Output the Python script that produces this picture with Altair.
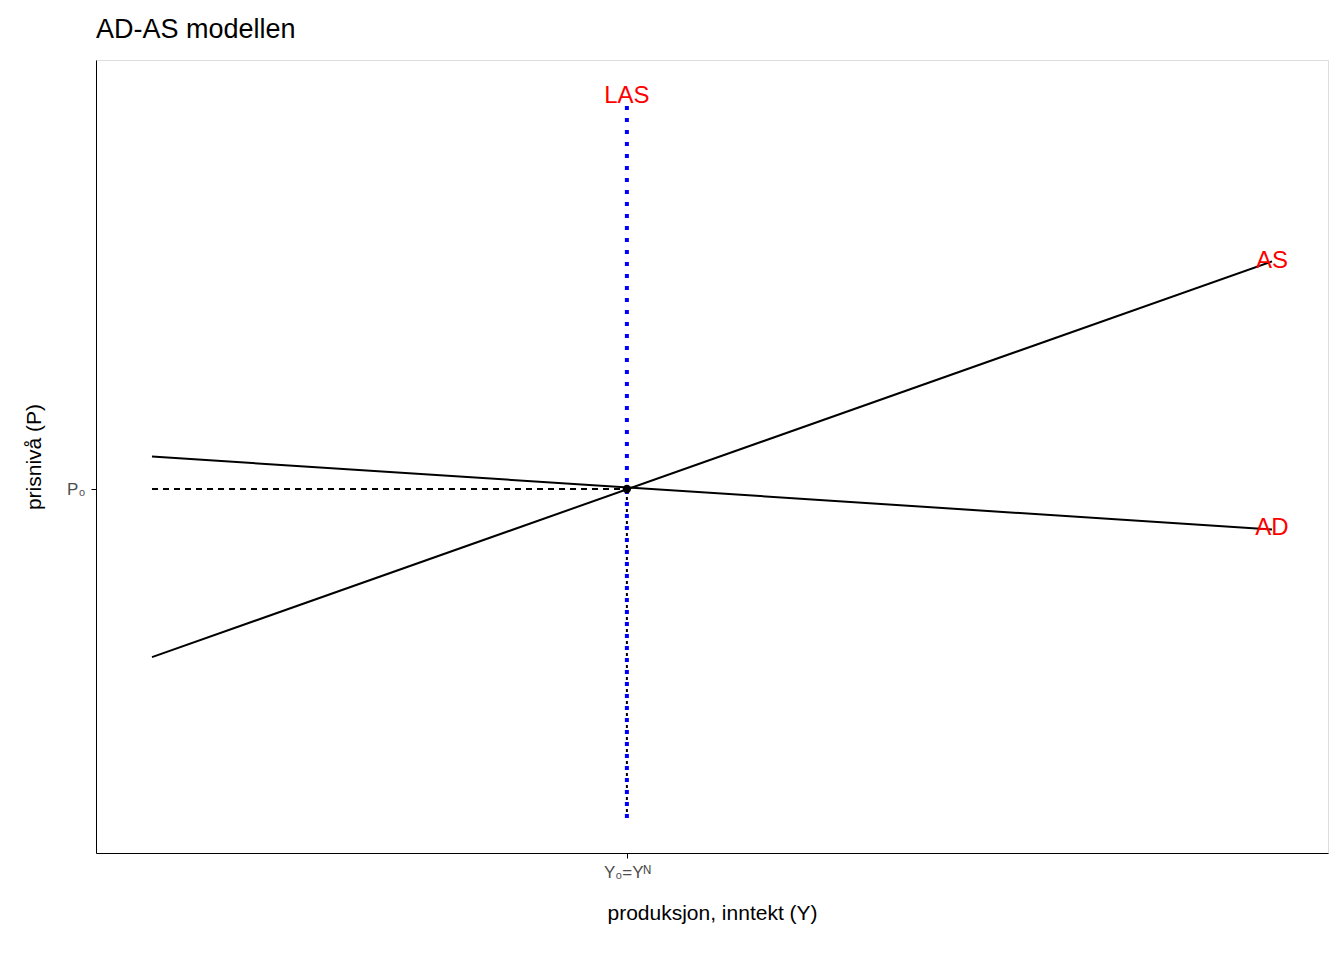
import altair as alt
import pandas as pd

ad_x = [0, 100]; ad_y = [50.0, 40.8]
as_x = [0, 100]; as_y = [24.7, 74.6]
y0 = 42.4; p0 = 45.9
las_y = [4.4, 95.0]
labels = ["LAS", "AS", "AD"]
lab_x = [42.4, 100, 100]
lab_y = [95.5, 74.6, 41.0]

xs = alt.Scale(domain=[-5, 105], nice=False, zero=False)
ys = alt.Scale(domain=[0, 100], nice=False, zero=False)

X = alt.X("x:Q", scale=xs, title="produksjon, inntekt (Y)",
          axis=alt.Axis(values=[y0], labelExpr="'Y₀=Yᴺ'", grid=False, domainColor="black",
                        tickColor="black", labelColor="#4d4d4d", labelFontSize=17, labelPadding=6,
                        titleFontSize=21, titleFontWeight="normal", titlePadding=22, titleColor="black"))
Y = alt.Y("y:Q", scale=ys, title="prisnivå (P)",
          axis=alt.Axis(values=[p0], labelExpr="'P₀'", grid=False, domainColor="black",
                        tickColor="black", labelColor="#4d4d4d", labelFontSize=17, labelPadding=6,
                        titleFontSize=21, titleFontWeight="normal", titlePadding=22, titleColor="black"))

def line(xv, yv, **kw):
    return alt.Chart(pd.DataFrame({"x": xv, "y": yv})).mark_line(**kw).encode(x=X, y=Y)

ad = line(ad_x, ad_y, color="black", strokeWidth=2)
as_ = line(as_x, as_y, color="black", strokeWidth=2)
hdash = line([0, y0], [p0, p0], color="black", strokeWidth=2, strokeDash=[6, 5])
vdot = line([y0, y0], [las_y[0], p0], color="black", strokeWidth=2, strokeDash=[3, 3])
las = line([y0, y0], las_y, color="blue", strokeWidth=4, strokeDash=[4, 8])
pt = alt.Chart(pd.DataFrame({"x": [y0], "y": [p0]})).mark_circle(color="black", size=70, opacity=1).encode(x=X, y=Y)
txt = alt.Chart(pd.DataFrame({"x": lab_x, "y": lab_y, "t": labels})).mark_text(
    color="red", fontSize=24, align="center", baseline="middle").encode(x=X, y=Y, text="t:N")

chart = alt.layer(hdash, vdot, las, ad, as_, pt, txt).properties(
    width=1232, height=793,
    title=alt.TitleParams("AD-AS modellen", anchor="start", frame="group", fontSize=27,
                          fontWeight="normal", offset=16),
    autosize=alt.AutoSizeParams(type="none"),
    padding={"left": 88, "top": 52, "right": 8, "bottom": 80},
).configure_view(strokeWidth=0).configure(font="Liberation Sans")

chart.save("out.html", embed_options={"renderer": "svg", "actions": False})
